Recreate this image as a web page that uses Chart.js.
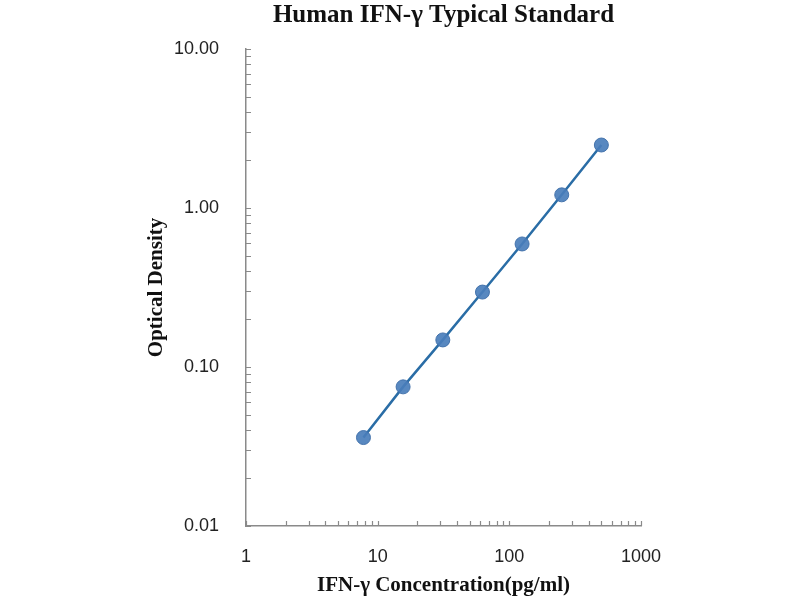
<!DOCTYPE html>
<html>
<head>
<meta charset="utf-8">
<title>Human IFN-γ Typical Standard</title>
<script src="https://cdn.jsdelivr.net/npm/chart.js@4/dist/chart.umd.min.js"></script>
<style>
    html, body { margin: 0; padding: 0; background: #fff; }
    #wrap { width: 800px; height: 600px; }
</style>
</head>
<body>
<div id="wrap"><canvas id="stdCurve" width="800" height="600"></canvas></div>
<script>
// Standard curve data (concentration in pg/ml, OD)
const concentrations = [7.8, 15.6, 31.25, 62.5, 125, 250, 500];
const opticalDensity = [0.036, 0.075, 0.148, 0.296, 0.594, 1.21, 2.49];

// Axis tick labels
const xTickValues = [1, 10, 100, 1000];
const yTickValues = [0.01, 0.1, 1, 10];
const minorSteps = [1, 2, 3, 4, 5, 6, 7, 8, 9];

const axisColor = '#8a8a8a';
const serif = "'Liberation Serif', 'Times New Roman', serif";
const sans = "'Liberation Sans', Arial, sans-serif";

// Build minor tick values for each decade of a log axis
const minorTicksFor = (decades) => {
    const vals = [];
    for (let i = 0; i < decades.length - 1; i++) {
        minorSteps.forEach(m => vals.push(decades[i] * m));
    }
    vals.push(decades[decades.length - 1]);
    return vals;
};

// Small inward ticks like the spreadsheet style axes
const inwardTicks = {
    id: 'inwardTicks',
    afterDraw(chart) {
        const { ctx, chartArea, scales } = chart;
        const len = 5;
        ctx.save();
        ctx.strokeStyle = axisColor;
        ctx.lineWidth = 1.2;
        ctx.beginPath();
        minorTicksFor(xTickValues).forEach(v => {
            const px = Math.round(scales.x.getPixelForValue(v)) + 0.5;
            ctx.moveTo(px, chartArea.bottom);
            ctx.lineTo(px, chartArea.bottom - len);
        });
        minorTicksFor(yTickValues).forEach(v => {
            const py = Math.round(scales.y.getPixelForValue(v)) + 0.5;
            ctx.moveTo(chartArea.left, py);
            ctx.lineTo(chartArea.left + len, py);
        });
        ctx.stroke();
        ctx.restore();
    }
};

const points = concentrations.map((c, i) => ({ x: c, y: opticalDensity[i] }));

new Chart(document.getElementById('stdCurve').getContext('2d'), {
    type: 'scatter',
    data: {
        datasets: [{
            data: points,
            showLine: true,
            borderColor: '#2a6da6',
            borderWidth: 2.5,
            pointRadius: 7,
            pointHoverRadius: 7,
            pointBackgroundColor: 'rgba(74, 126, 187, 0.92)',
            pointBorderColor: 'rgba(64, 112, 170, 0.95)',
            pointBorderWidth: 1
        }]
    },
    options: {
        responsive: false,
        animation: false,
        devicePixelRatio: 1,
        layout: { padding: { left: 0, right: 159, top: 0, bottom: 0 } },
        plugins: {
            legend: { display: false },
            tooltip: { enabled: false },
            title: {
                display: true,
                fullSize: false,
                text: 'Human IFN-γ Typical Standard',
                color: '#111',
                font: { family: serif, size: 25, weight: 'bold' },
                padding: { top: 1, bottom: 18 }
            }
        },
        scales: {
            x: {
                type: 'logarithmic',
                min: 1,
                max: 1000,
                afterBuildTicks: (scale) => { scale.ticks = xTickValues.map(v => ({ value: v })); },
                afterFit: (scale) => { scale.height = 74; },
                grid: { display: false, drawTicks: false },
                border: { display: true, color: axisColor, width: 1.5 },
                ticks: {
                    color: '#222',
                    font: { family: sans, size: 18 },
                    padding: 20,
                    maxRotation: 0,
                    autoSkip: false,
                    callback: (v) => String(v)
                },
                title: {
                    display: true,
                    text: 'IFN-γ Concentration(pg/ml)',
                    color: '#111',
                    font: { family: serif, size: 21, weight: 'bold' },
                    padding: { top: 0, bottom: 2 }
                }
            },
            y: {
                type: 'logarithmic',
                min: 0.01,
                max: 10,
                afterBuildTicks: (scale) => { scale.ticks = yTickValues.map(v => ({ value: v })); },
                afterFit: (scale) => { scale.width = 246; },
                grid: { display: false, drawTicks: false },
                border: { display: true, color: axisColor, width: 1.5 },
                ticks: {
                    color: '#222',
                    font: { family: sans, size: 18 },
                    padding: 27,
                    autoSkip: false,
                    callback: (v) => Number(v).toFixed(2)
                },
                title: {
                    display: true,
                    text: 'Optical Density',
                    color: '#111',
                    font: { family: serif, size: 21, weight: 'bold' },
                    padding: { top: 144, bottom: 0 }
                }
            }
        }
    },
    plugins: [inwardTicks]
});
</script>
</body>
</html>
